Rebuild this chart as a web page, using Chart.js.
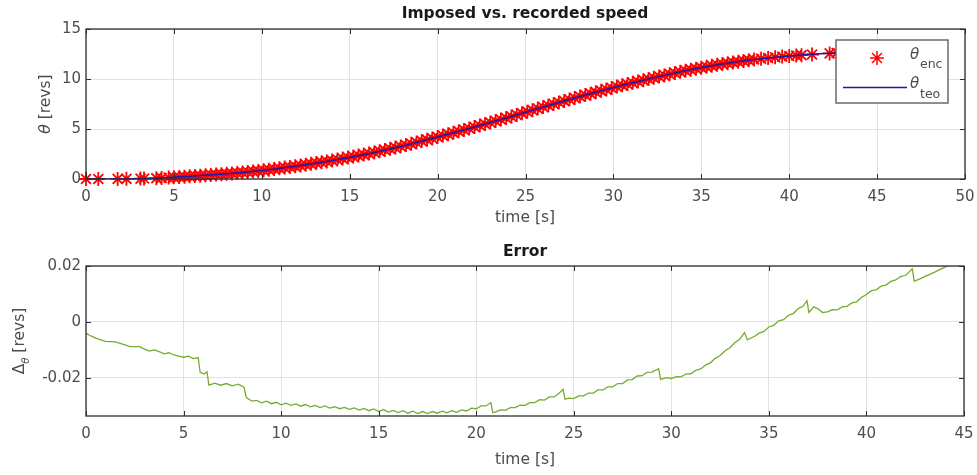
<!DOCTYPE html>
<html>
<head>
<meta charset="utf-8">
<script src="https://cdn.jsdelivr.net/npm/chart.js@4.4.0/dist/chart.umd.min.js"></script>
<style>
  body { margin: 0; background: #fff; }
  #wrap { position: relative; width: 977px; height: 475px; }
  canvas { position: absolute; left: 0; }
  #top { top: 0; }
  #bottom { top: 235px; }
</style>
</head>
<body>
<div id="wrap">
  <canvas id="top" width="977" height="235"></canvas>
  <canvas id="bottom" width="977" height="240"></canvas>
</div>
<script>
// theoretical position (blue line)
const teoTime = [0, 2, 4, 6, 8, 10, 12, 14, 16, 18, 20, 22, 24, 26, 28, 30, 32, 34, 36, 38, 40, 42, 43];
const teoRevs = [0, 0.01, 0.08, 0.28, 0.52, 0.85, 1.3, 1.85, 2.5, 3.3, 4.2, 5.15, 6.15, 7.2, 8.2, 9.15, 10.0, 10.8, 11.45, 11.95, 12.3, 12.55, 12.62];

// encoder samples (red stars)
const encTime = [0, 0.7, 1.8, 2.3, 3.1, 3.3, 4.0, 4.3, 4.7, 5.0, 5.3, 5.6, 5.9, 6.2, 6.5, 6.8, 7.1, 7.4, 7.7, 8.0,
  8.3, 8.6, 8.9, 9.2, 9.5, 9.8, 10.1, 10.4, 10.7, 11.0, 11.3, 11.6, 11.9, 12.2, 12.5, 12.8, 13.1, 13.4, 13.7, 14.0,
  14.3, 14.6, 14.9, 15.2, 15.5, 15.8, 16.1, 16.4, 16.7, 17.0, 17.3, 17.6, 17.9, 18.2, 18.5, 18.8, 19.1, 19.4, 19.7, 20.0,
  20.3, 20.6, 20.9, 21.2, 21.5, 21.8, 22.1, 22.4, 22.7, 23.0, 23.3, 23.6, 23.9, 24.2, 24.5, 24.8, 25.1, 25.4, 25.7, 26.0,
  26.3, 26.6, 26.9, 27.2, 27.5, 27.8, 28.1, 28.4, 28.7, 29.0, 29.3, 29.6, 29.9, 30.2, 30.5, 30.8, 31.1, 31.4, 31.7, 32.0,
  32.3, 32.6, 32.9, 33.2, 33.5, 33.8, 34.1, 34.4, 34.7, 35.0, 35.3, 35.6, 35.9, 36.2, 36.5, 36.8, 37.1, 37.4, 37.7, 38.0,
  38.4, 38.8, 39.2, 39.6, 40.0, 40.4, 40.7, 41.3, 42.3, 42.7];
const encRevs = [0, 0, 0.01, 0.02, 0.04, 0.05, 0.08, 0.1, 0.14, 0.17, 0.2, 0.23, 0.27, 0.3, 0.33, 0.37, 0.41, 0.45, 0.48, 0.52,
  0.56, 0.61, 0.66, 0.71, 0.76, 0.81, 0.87, 0.93, 1.0, 1.07, 1.14, 1.2, 1.27, 1.35, 1.43, 1.52, 1.6, 1.68, 1.76, 1.85,
  1.94, 2.04, 2.14, 2.24, 2.34, 2.44, 2.54, 2.66, 2.78, 2.9, 3.02, 3.14, 3.26, 3.39, 3.52, 3.66, 3.79, 3.93, 4.06, 4.2,
  4.34, 4.48, 4.62, 4.77, 4.91, 5.05, 5.2, 5.35, 5.5, 5.65, 5.8, 5.95, 6.1, 6.25, 6.41, 6.57, 6.73, 6.88, 7.04, 7.2,
  7.35, 7.5, 7.65, 7.8, 7.95, 8.1, 8.25, 8.39, 8.53, 8.68, 8.82, 8.96, 9.1, 9.24, 9.37, 9.49, 9.62, 9.75, 9.88, 10.0,
  10.12, 10.24, 10.36, 10.48, 10.6, 10.72, 10.83, 10.93, 11.03, 11.13, 11.22, 11.32, 11.42, 11.5, 11.58, 11.66, 11.73, 11.81, 11.88, 11.95,
  12.03, 12.1, 12.17, 12.24, 12.3, 12.35, 12.38, 12.45, 12.56, 12.6];

// position error (green line)
const errTime = [0, 0.25, 0.5, 0.75, 1.0, 1.5, 2.0, 2.25, 2.75, 3.0, 3.25, 3.5, 3.75, 4.0, 4.25, 4.5, 4.75, 5.0, 5.25, 5.5,
  5.75, 5.85, 6.05, 6.2, 6.3, 6.6, 6.9, 7.2, 7.5, 7.8, 8.1, 8.2, 8.25, 8.5, 8.75, 9.0, 9.25, 9.5, 9.75, 10.0,
  10.25, 10.5, 10.75, 11.0, 11.25, 11.5, 11.75, 12.0, 12.25, 12.5, 12.75, 13.0, 13.25, 13.5, 13.75, 14.0, 14.25, 14.5, 14.75, 15.0,
  15.25, 15.5, 15.75, 16.0, 16.25, 16.5, 16.75, 17.0, 17.25, 17.5, 17.75, 18.0, 18.25, 18.5, 18.75, 19.0, 19.25, 19.5, 19.75, 20.0,
  20.25, 20.5, 20.75, 20.85, 21.0, 21.25, 21.5, 21.75, 22.0, 22.25, 22.5, 22.75, 23.0, 23.25, 23.5, 23.75, 24.0, 24.25, 24.45, 24.55,
  24.75, 25.0, 25.25, 25.5, 25.75, 26.0, 26.25, 26.5, 26.75, 27.0, 27.25, 27.5, 27.75, 28.0, 28.25, 28.5, 28.75, 29.0, 29.35, 29.45,
  29.75, 30.0, 30.25, 30.5, 30.75, 31.0, 31.25, 31.5, 31.75, 32.0, 32.25, 32.5, 32.75, 33.0, 33.25, 33.5, 33.75, 33.9, 34.0, 34.25,
  34.5, 34.75, 35.0, 35.25, 35.5, 35.75, 36.0, 36.25, 36.5, 36.75, 36.95, 37.05, 37.3, 37.5, 37.75, 38.0, 38.25, 38.5, 38.75, 39.0,
  39.25, 39.5, 39.75, 40.0, 40.25, 40.5, 40.75, 41.0, 41.25, 41.5, 41.75, 42.0, 42.35, 42.45, 42.75, 43.0, 43.25, 43.5, 43.75, 44.0, 44.2];
const errRevs = [-0.0041, -0.0050, -0.0058, -0.0064, -0.0069, -0.0071, -0.0082, -0.0088, -0.0088, -0.0097, -0.0104, -0.0100, -0.0106, -0.0114, -0.0110, -0.0118, -0.0122, -0.0126, -0.0122, -0.0131,
  -0.0127, -0.0180, -0.0186, -0.0178, -0.0226, -0.0219, -0.0226, -0.0220, -0.0228, -0.0222, -0.0233, -0.0266, -0.0272, -0.0283, -0.0280, -0.0289, -0.0283, -0.0292, -0.0287, -0.0296,
  -0.0290, -0.0298, -0.0293, -0.0301, -0.0295, -0.0303, -0.0298, -0.0306, -0.0300, -0.0308, -0.0303, -0.0310, -0.0305, -0.0312, -0.0307, -0.0315, -0.0309, -0.0317, -0.0311, -0.0320,
  -0.0313, -0.0322, -0.0316, -0.0324, -0.0317, -0.0326, -0.0319, -0.0327, -0.0320, -0.0327, -0.0320, -0.0326, -0.0319, -0.0325, -0.0317, -0.0323, -0.0314, -0.0318, -0.0308, -0.0310,
  -0.0300, -0.0300, -0.0288, -0.0324, -0.0321, -0.0314, -0.0315, -0.0306, -0.0306, -0.0297, -0.0298, -0.0288, -0.0288, -0.0278, -0.0279, -0.0268, -0.0268, -0.0255, -0.0241, -0.0276,
  -0.0272, -0.0274, -0.0264, -0.0264, -0.0254, -0.0254, -0.0243, -0.0243, -0.0232, -0.0232, -0.0220, -0.0220, -0.0207, -0.0206, -0.0193, -0.0192, -0.0180, -0.0179, -0.0167, -0.0205,
  -0.0199, -0.0202, -0.0195, -0.0196, -0.0186, -0.0185, -0.0173, -0.0168, -0.0154, -0.0146, -0.0130, -0.0120, -0.0103, -0.0092, -0.0074, -0.0062, -0.0038, -0.0064, -0.0060, -0.0052,
  -0.0040, -0.0034, -0.0018, -0.0012, 0.0004, 0.0008, 0.0024, 0.0030, 0.0048, 0.0056, 0.0076, 0.0034, 0.0054, 0.0048, 0.0034, 0.0036, 0.0044, 0.0043, 0.0054, 0.0056,
  0.0068, 0.0072, 0.0088, 0.0098, 0.0112, 0.0115, 0.0128, 0.0132, 0.0145, 0.0150, 0.0162, 0.0166, 0.0190, 0.0146, 0.0154, 0.0163, 0.0170, 0.0178, 0.0187, 0.0195, 0.0201];

// axis ticks
const topXTicks = [0, 5, 10, 15, 20, 25, 30, 35, 40, 45, 50];
const topYTicks = [0, 5, 10, 15];
const errXTicks = [0, 5, 10, 15, 20, 25, 30, 35, 40, 45];
const errYTicks = [-0.02, 0, 0.02];
const errYLabels = ["-0.02", "0", "0.02"];

const FONT = "'DejaVu Sans', 'Liberation Sans', Arial, sans-serif";
const colors = {
  tick: "#4d4d4d",
  grid: "#e2e2e2",
  box: "#2e2e2e",
  title: "#1a1a1a",
  red: "rgb(255, 0, 0)",
  blue: "rgb(25, 25, 170)",
  green: "rgb(119, 172, 48)",
};

function pts(xs, ys) {
  return xs.map((x, i) => ({ x: x, y: ys[i] }));
}

function fixedTicks(values) {
  return (scale) => {
    scale.ticks = values.map((v) => ({ value: v }));
  };
}

// matlab style box with ticks pointing inwards + labels
function axesDecor(opts) {
  return {
    id: "axesDecor",
    afterDatasetsDraw: (chart) => {
      const ctx = chart.ctx;
      const a = chart.chartArea;
      const xs = chart.scales.x;
      const ys = chart.scales.y;
      ctx.save();
      ctx.strokeStyle = colors.box;
      ctx.lineWidth = 1;
      ctx.beginPath();
      xs.ticks.forEach((t) => {
        const px = Math.round(xs.getPixelForValue(t.value)) + 0.5;
        ctx.moveTo(px, a.bottom);
        ctx.lineTo(px, a.bottom - 5);
        ctx.moveTo(px, a.top);
        ctx.lineTo(px, a.top + 5);
      });
      ys.ticks.forEach((t) => {
        const py = Math.round(ys.getPixelForValue(t.value)) + 0.5;
        ctx.moveTo(a.left, py);
        ctx.lineTo(a.left + 5, py);
        ctx.moveTo(a.right, py);
        ctx.lineTo(a.right - 5, py);
      });
      ctx.stroke();
      ctx.lineWidth = 1.3;
      ctx.strokeRect(a.left, a.top, a.right - a.left, a.bottom - a.top);
      ctx.restore();
    },
    afterDraw: (chart) => {
      const ctx = chart.ctx;
      ctx.save();
      ctx.fillStyle = colors.title;
      ctx.textAlign = "center";
      ctx.textBaseline = "middle";
      ctx.font = "bold 15.5px " + FONT;
      ctx.fillText(opts.title, 525, opts.titleY);
      ctx.font = "15.5px " + FONT;
      ctx.fillStyle = colors.tick;
      ctx.fillText("time [s]", 525, opts.xlabelY);
      opts.ylabel(ctx);
      if (opts.legend) opts.legend(ctx);
      ctx.restore();
    },
  };
}

function drawStar(ctx, x, y, r) {
  ctx.beginPath();
  for (let k = 0; k < 4; k++) {
    const ang = (k * Math.PI) / 4;
    ctx.moveTo(x - r * Math.cos(ang), y - r * Math.sin(ang));
    ctx.lineTo(x + r * Math.cos(ang), y + r * Math.sin(ang));
  }
  ctx.stroke();
}

function baseOptions(xMin, xMax, yMin, yMax, xTicks, yTicks, yLabel, xHeight, pad) {
  return {
    responsive: false,
    animation: false,
    layout: { padding: pad },
    plugins: { legend: { display: false }, tooltip: { enabled: false }, title: { display: false } },
    scales: {
      x: {
        type: "linear",
        min: xMin,
        max: xMax,
        afterBuildTicks: fixedTicks(xTicks),
        afterFit: (s) => {
          s.height = xHeight;
          s.paddingLeft = 0;
          s.paddingRight = 0;
        },
        grid: { color: colors.grid, drawTicks: false },
        border: { display: false },
        ticks: { color: colors.tick, font: { family: FONT, size: 15 }, padding: 9, maxRotation: 0 },
      },
      y: {
        type: "linear",
        min: yMin,
        max: yMax,
        afterBuildTicks: fixedTicks(yTicks),
        afterFit: (s) => {
          s.width = 86;
          s.paddingTop = 0;
          s.paddingBottom = 0;
        },
        grid: { color: colors.grid, drawTicks: false },
        border: { display: false },
        ticks: { color: colors.tick, font: { family: FONT, size: 15 }, padding: 5, callback: yLabel },
      },
    },
  };
}

// top: imposed vs recorded
const topOptions = baseOptions(0, 50, 0, 15, topXTicks, topYTicks, (v) => String(v), 56,
  { top: 29, right: 12, bottom: 0, left: 0 });

new Chart(document.getElementById("top"), {
  type: "line",
  data: {
    datasets: [
      {
        label: "teo",
        data: pts(teoTime, teoRevs),
        borderColor: colors.blue,
        borderWidth: 1.5,
        pointRadius: 0,
        cubicInterpolationMode: "monotone",
        order: 0,
      },
      {
        label: "enc",
        data: pts(encTime, encRevs),
        showLine: false,
        pointStyle: "star",
        pointRadius: 7,
        borderColor: colors.red,
        backgroundColor: colors.red,
        borderWidth: 1.8,
        clip: false,
        order: 1,
      },
    ],
  },
  options: topOptions,
  plugins: [axesDecor({
    title: "Imposed vs. recorded speed",
    titleY: 14,
    xlabelY: 218,
    ylabel: (ctx) => {
      ctx.translate(46, 104);
      ctx.rotate(-Math.PI / 2);
      ctx.textAlign = "left";
      ctx.font = "italic 15.5px " + FONT;
      const w1 = ctx.measureText("\u03b8").width;
      ctx.font = "15.5px " + FONT;
      const w2 = ctx.measureText(" [revs]").width;
      let x = -(w1 + w2) / 2;
      ctx.font = "italic 15.5px " + FONT;
      ctx.fillText("\u03b8", x, 0);
      ctx.font = "15.5px " + FONT;
      ctx.fillText(" [revs]", x + w1, 0);
      ctx.setTransform(1, 0, 0, 1, 0, 0);
    },
    legend: (ctx) => {
      ctx.fillStyle = "#fff";
      ctx.fillRect(836, 40, 112, 63);
      ctx.strokeStyle = "#6a6a6a";
      ctx.lineWidth = 1.5;
      ctx.strokeRect(836, 40, 112, 63);
      ctx.strokeStyle = colors.red;
      ctx.lineWidth = 1.5;
      drawStar(ctx, 877, 58, 7);
      ctx.strokeStyle = colors.blue;
      ctx.lineWidth = 1.5;
      ctx.beginPath();
      ctx.moveTo(843, 87.5);
      ctx.lineTo(907, 87.5);
      ctx.stroke();
      ctx.fillStyle = colors.tick;
      ctx.textAlign = "left";
      ctx.font = "italic 15px " + FONT;
      ctx.fillText("\u03b8", 910, 55);
      ctx.fillText("\u03b8", 910, 84);
      ctx.font = "12.5px " + FONT;
      ctx.fillText("enc", 920, 65);
      ctx.fillText("teo", 920, 95);
    },
  })],
});

// bottom: error
const errOptions = baseOptions(0, 45, -0.0336, 0.02, errXTicks, errYTicks,
  (v) => errYLabels[errYTicks.indexOf(v)], 59, { top: 31, right: 13, bottom: 0, left: 0 });

new Chart(document.getElementById("bottom"), {
  type: "line",
  data: {
    datasets: [
      {
        label: "error",
        data: pts(errTime, errRevs),
        borderColor: colors.green,
        borderWidth: 1.3,
        pointRadius: 0,
        tension: 0,
      },
    ],
  },
  options: errOptions,
  plugins: [axesDecor({
    title: "Error",
    titleY: 17,
    xlabelY: 225,
    ylabel: (ctx) => {
      ctx.translate(20, 106);
      ctx.rotate(-Math.PI / 2);
      ctx.textAlign = "left";
      ctx.font = "15.5px " + FONT;
      const wD = ctx.measureText("\u0394").width;
      ctx.font = "italic 10px " + FONT;
      const wS = ctx.measureText("\u03b8").width;
      ctx.font = "15.5px " + FONT;
      const wR = ctx.measureText(" [revs]").width;
      let x = -(wD + wS + wR) / 2;
      ctx.fillText("\u0394", x, 0);
      ctx.font = "italic 10px " + FONT;
      ctx.fillText("\u03b8", x + wD, 6);
      ctx.font = "15.5px " + FONT;
      ctx.fillText(" [revs]", x + wD + wS, 0);
      ctx.setTransform(1, 0, 0, 1, 0, 0);
    },
  })],
});
</script>
</body>
</html>
